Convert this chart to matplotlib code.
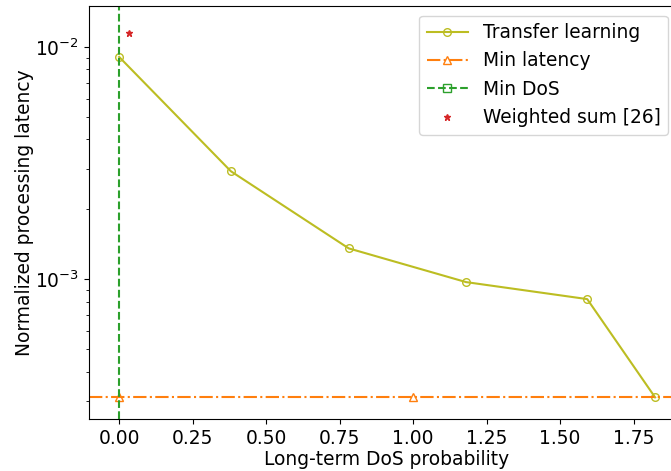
import matplotlib
matplotlib.use("Agg")
import matplotlib.pyplot as plt
from matplotlib.lines import Line2D

# Transfer learning trade-off curve
tl_dos = [0.0, 0.380, 0.781, 1.180, 1.592, 1.823]
tl_latency = [9.06e-3, 2.92e-3, 1.36e-3, 9.74e-4, 8.23e-4, 3.11e-4]

# Baselines
min_latency_dos = [0.0, 1.0]
min_latency_value = 3.11e-4
min_dos_value = 0.0
weighted_dos = [0.034]
weighted_latency = [1.148e-2]

plt.rcParams["font.size"] = 13.4

fig = plt.figure(figsize=(6.71, 4.71), dpi=100)
W, H = 671, 471
xlim = (-0.1036, 1.92)
px_per_unit = 294.0
ax_left, ax_top, ax_bottom = 88.7, 6.3, 419.0
ax_width = (xlim[1] - xlim[0]) * px_per_unit
ax = fig.add_axes([ax_left / W, 1 - ax_bottom / H, ax_width / W, (ax_bottom - ax_top) / H])

olive, orange, green, red = "#bcbd22", "#ff7f0e", "#2ca02c", "#d62728"

ax.plot(tl_dos, tl_latency, color=olive, marker="o", mfc="none", ms=5.5, lw=1.5)
ax.axhline(min_latency_value, color=orange, ls="-.", lw=1.5)
ax.plot(min_latency_dos, [min_latency_value] * len(min_latency_dos), ls="none",
        marker="^", mfc="none", mec=orange, ms=5.5)
ax.axvline(min_dos_value, color=green, ls="--", lw=1.5)
ax.plot(weighted_dos, weighted_latency, ls="none", marker="*", color=red, ms=5)

ax.set_yscale("log")
ax.set_xlim(*xlim)
ax.set_ylim(2.51e-4, 1.496e-2)
ax.set_xticks([0.0, 0.25, 0.5, 0.75, 1.0, 1.25, 1.5, 1.75])
ax.set_xticklabels(["0.00", "0.25", "0.50", "0.75", "1.00", "1.25", "1.50", "1.75"])
ax.set_xlabel("Long-term DoS probability", labelpad=1.5)
ax.set_ylabel("Normalized processing latency")
ax.yaxis.set_label_coords((34 - ax_left) / ax_width, 0.5)

handles = [
    Line2D([], [], color=olive, marker="o", mfc="none", ms=5.5, lw=1.5),
    Line2D([], [], color=orange, ls="-.", marker="^", mfc="none", ms=5.5, lw=1.5),
    Line2D([], [], color=green, ls="--", marker="s", mfc="none", ms=5.5, lw=1.5),
    Line2D([], [], color=red, ls="none", marker="*", ms=5),
]
labels = ["Transfer learning", "Min latency", "Min DoS", "Weighted sum [26]"]
fig.legend(handles, labels, loc="upper right", bbox_to_anchor=(668 / W, 1 - 15.7 / H),
           borderaxespad=0.0, handlelength=2.2)

fig.savefig("out.png", dpi=100)
